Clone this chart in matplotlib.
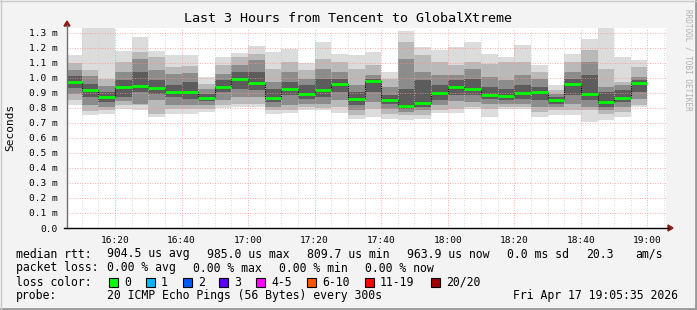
import numpy as np
import matplotlib
matplotlib.use('Agg')
from matplotlib import pyplot as plt
from matplotlib.patches import Rectangle, Polygon
from matplotlib.lines import Line2D

plt.rcParams['font.family'] = ['DejaVu Sans Mono']

# bar start in minutes after 16:00 (5 min steps)
starts = [5 * k for k in range(1, 36)]

# smoke bands (ms): outermost (top/bottom) to innermost, and median
top = [1.148, 1.33, 1.33, 1.175, 1.27, 1.18, 1.148, 1.15, 1.004, 1.137, 1.164, 1.21,
       1.17, 1.188, 1.10, 1.237, 1.16, 1.148, 1.17, 1.038, 1.307, 1.204, 1.181, 1.204,
       1.237, 1.155, 1.137, 1.219, 1.082, 0.949, 1.16, 1.254, 1.33, 1.137, 1.115]
t2 = [1.10, 1.05, 0.993, 1.104, 1.17, 1.137, 1.07, 1.08, 0.96, 1.082, 1.137, 1.16,
      1.06, 1.104, 1.049, 1.126, 1.104, 1.06, 1.082, 0.993, 1.237, 1.148, 1.104, 1.082,
      1.104, 1.093, 1.104, 1.104, 1.038, 0.916, 1.104, 1.181, 1.06, 0.971, 1.071]
t3 = [1.05, 1.01, 0.945, 1.038, 1.126, 1.049, 1.027, 1.03, 0.927, 1.027, 1.082, 1.115,
      0.971, 1.038, 0.993, 1.06, 1.038, 0.949, 1.015, 0.938, 1.126, 1.038, 1.015, 1.015,
      1.06, 1.004, 0.982, 1.015, 0.993, 0.894, 1.038, 1.104, 0.938, 0.949, 1.004]
t4 = [1.01, 0.96, 0.905, 0.982, 1.038, 0.982, 0.95, 0.97, 0.894, 0.982, 1.038, 1.038,
      0.927, 0.971, 0.949, 0.993, 0.993, 0.905, 0.993, 0.883, 0.927, 0.982, 0.949, 0.982,
      0.993, 0.938, 0.927, 0.949, 0.938, 0.872, 0.993, 1.015, 0.905, 0.918, 0.982]
median = [0.971, 0.918, 0.872, 0.938, 0.945, 0.931, 0.905, 0.905, 0.865, 0.936, 0.991, 0.962,
          0.867, 0.925, 0.892, 0.918, 0.958, 0.858, 0.976, 0.850, 0.812, 0.832, 0.898, 0.938,
          0.927, 0.885, 0.878, 0.898, 0.905, 0.852, 0.958, 0.892, 0.838, 0.865, 0.964]
b4 = [0.93, 0.87, 0.838, 0.872, 0.905, 0.894, 0.872, 0.86, 0.843, 0.905, 0.927, 0.916,
      0.838, 0.883, 0.861, 0.872, 0.905, 0.816, 0.905, 0.827, 0.794, 0.805, 0.85, 0.883,
      0.883, 0.856, 0.85, 0.861, 0.85, 0.827, 0.883, 0.85, 0.805, 0.838, 0.905]
b3 = [0.89, 0.82, 0.805, 0.843, 0.827, 0.85, 0.816, 0.82, 0.816, 0.85, 0.872, 0.872,
      0.805, 0.816, 0.827, 0.827, 0.85, 0.783, 0.838, 0.794, 0.772, 0.783, 0.816, 0.843,
      0.838, 0.827, 0.827, 0.827, 0.805, 0.805, 0.827, 0.805, 0.783, 0.805, 0.861]
b2 = [0.85, 0.78, 0.783, 0.816, 0.816, 0.761, 0.794, 0.79, 0.794, 0.816, 0.827, 0.827,
      0.783, 0.783, 0.805, 0.80, 0.805, 0.75, 0.794, 0.761, 0.75, 0.75, 0.783, 0.794,
      0.805, 0.794, 0.805, 0.805, 0.772, 0.783, 0.783, 0.783, 0.761, 0.772, 0.816]
bottom = [0.82, 0.75, 0.761, 0.79, 0.783, 0.74, 0.761, 0.76, 0.772, 0.80, 0.805, 0.805,
          0.761, 0.768, 0.783, 0.783, 0.768, 0.723, 0.739, 0.728, 0.717, 0.723, 0.768, 0.768,
          0.79, 0.739, 0.794, 0.79, 0.739, 0.75, 0.754, 0.706, 0.717, 0.739, 0.805]

xticks = [20, 40, 60, 80, 100, 120, 140, 160, 180]
xlabels = ['16:20', '16:40', '17:00', '17:20', '17:40', '18:00', '18:20', '18:40', '19:00']
yticks = [i / 10 for i in range(14)]
ylabels = ['0.0'] + ['%.1f m' % v for v in yticks[1:]]

loss_names = ['0', '1', '2', '3', '4-5', '6-10', '11-19', '20/20']
loss_colors = ['#00ff00', '#00b8ff', '#0059ff', '#5e00ff', '#ff00ff', '#ff5500', '#ff0000', '#a10000']

W, H = 697, 310
fig = plt.figure(figsize=(W / 100, H / 100), dpi=100)
fig.patch.set_facecolor('#f3f3f3')

L, R, T, B = 67, 666, 28, 228
ax = fig.add_axes([L / W, 1 - B / H, (R - L) / W, (B - T) / H])
ax.set_facecolor('white')
ax.set_xlim(5.583, 185.583)
ax.set_ylim(0, 1.33)

# smoke
bands = [(top, bottom, '#dcdcdc'), (t2, b2, '#b9b9b9'), (t3, b3, '#8c8c8c'), (t4, b4, '#5c5c5c')]
for hi, lo, c in bands:
    ax.bar(starts, np.array(hi) - np.array(lo), bottom=lo, width=5, align='edge',
           color=c, linewidth=0, zorder=2)

# median
xs = starts + [starts[-1] + 5]
ax.plot(xs, median + [median[-1]], drawstyle='steps-post', color='black', lw=0.8,
        ls=(0, (1, 1)), zorder=4)
ax.hlines(median, starts, np.array(starts) + 5, colors='#00ff00', lw=2, zorder=5)

# grid
for m in range(10, 186, 5):
    c = '#ff9090' if m % 20 == 0 else '#cccccc'
    ax.axvline(m, color=c, lw=0.6, ls=(0, (1, 2)), zorder=3)
for v in yticks[1:]:
    ax.axhline(v, color='#ff9090', lw=0.6, ls=(0, (1, 2)), zorder=3)

for s in ax.spines.values():
    s.set_visible(False)
ax.set_xticks(xticks)
ax.set_xticklabels(xlabels, fontsize=6.8)
ax.set_yticks(yticks)
ax.set_yticklabels(ylabels, fontsize=6.8)
ax.tick_params(axis='both', length=0, pad=7)
ax.tick_params(axis='x', pad=6)

# axes lines + arrows (figure pixel coords)
def fx(x):
    return x / W

def fy(y):
    return 1 - y / H

fig.add_artist(Line2D([fx(67), fx(67)], [fy(228), fy(25)], color='#707070', lw=1))
fig.add_artist(Line2D([fx(64), fx(668)], [fy(228), fy(228)], color='black', lw=1))
fig.add_artist(Polygon([[fx(64), fy(26)], [fx(70), fy(26)], [fx(67), fy(21)]], closed=True,
                       color='#8b1a1a'))
fig.add_artist(Polygon([[fx(668), fy(225)], [fx(668), fy(231)], [fx(673), fy(228)]], closed=True,
                       color='#8b1a1a'))

fig.text(fx(348), fy(19), 'Last 3 Hours from Tencent to GlobalXtreme', ha='center', va='center',
         fontsize=9.6)
fig.text(fx(10), fy(127), 'Seconds', rotation=90, ha='center', va='center', fontsize=8)
fig.text(fx(688), fy(60), 'RRDTOOL / TOBI OETIKER', rotation=270, ha='center', va='center',
         fontsize=5.5, color='#b0b0b0')

fs = 8.3
def txt(x, y, s):
    fig.text(fx(x), fy(y), s, ha='left', va='center', fontsize=fs)

y1, y2, y3, y4 = 254, 268, 282, 296
txt(16, y1, 'median rtt:')
txt(107.3, y1, '904.5 us avg')
txt(206.7, y1, '985.0 us max')
txt(306.7, y1, '809.7 us min')
txt(407.3, y1, '963.9 us now')
txt(507.3, y1, '0.0 ms sd')
txt(586, y1, '20.3')
txt(635, y1, 'am/s')

txt(16, y2, 'packet loss:')
txt(107.3, y2, '0.00 % avg')
txt(193.3, y2, '0.00 % max')
txt(279.3, y2, '0.00 % min')
txt(365, y2, '0.00 % now')

txt(16, y3, 'loss color:')
box_x = [109, 145.7, 182.7, 219.3, 256, 307.3, 365, 430.7]
for bx, name, c in zip(box_x, loss_names, loss_colors):
    fig.add_artist(Rectangle((fx(bx), fy(y3 + 4.5)), 9 / W, 9 / H, facecolor=c,
                             edgecolor='black', lw=0.8))
    txt(bx + 15, y3, name)

txt(16, y4, 'probe:')
txt(107.3, y4, '20 ICMP Echo Pings (56 Bytes) every 300s')
txt(513.3, y4, 'Fri Apr 17 19:05:35 2026')

# frame
fig.add_artist(Line2D([0, 1], [fy(309), fy(309)], color='#999999', lw=2))
fig.add_artist(Line2D([fx(696), fx(696)], [0, 1], color='#999999', lw=2))
fig.add_artist(Line2D([0, 1], [fy(0.5), fy(0.5)], color='#cbcbcb', lw=1))
fig.add_artist(Line2D([fx(0.5), fx(0.5)], [0, 1], color='#cbcbcb', lw=1))

fig.savefig('out.png', dpi=100, facecolor=fig.get_facecolor())
